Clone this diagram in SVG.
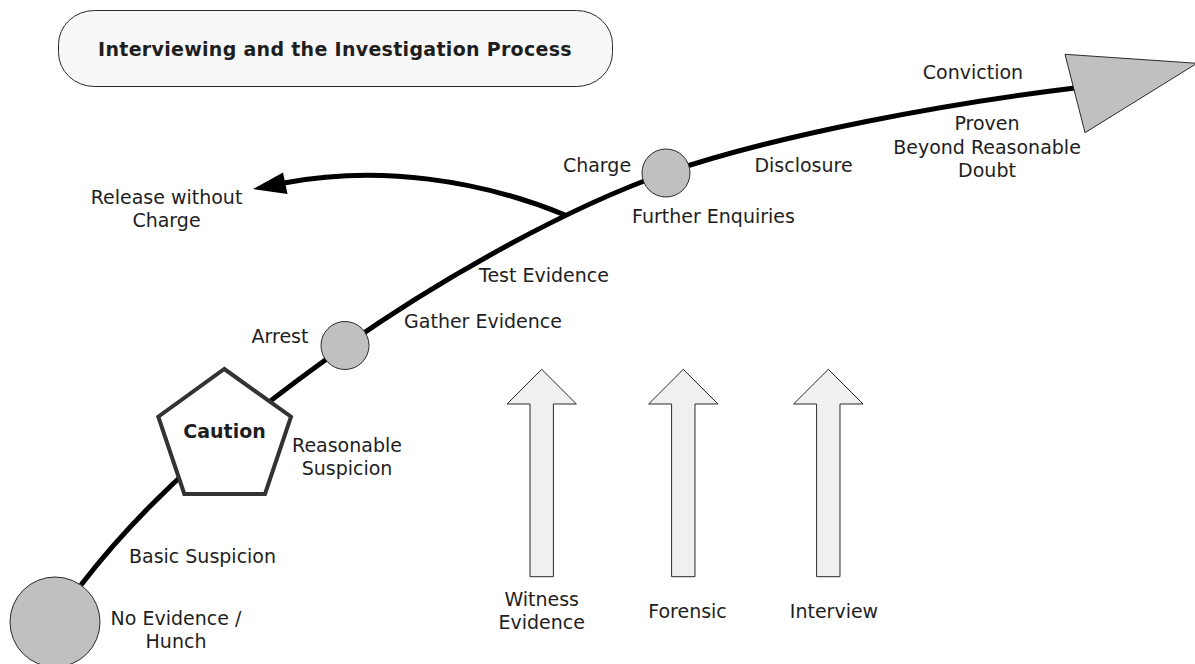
<svg xmlns="http://www.w3.org/2000/svg" width="1195" height="664" viewBox="0 0 1195 664">
  <style>
    .lbl { font-family: "DejaVu Sans", Verdana, sans-serif; font-size: 19px; fill: #1e1e1e; text-anchor: middle; }
    .bold { font-weight: bold; }
    .dot { fill: #c0c0c0; stroke: #2a2a2a; stroke-width: 1; }
    .path { fill: none; stroke: #000; stroke-width: 5; stroke-linecap: butt; }
    .source { fill: #f0f0f0; stroke: #2a2a2a; stroke-width: 1; }
  </style>
  <defs>
    <!-- upward block arrow, tip at origin -->
    <path id="blockArrow" d="M0,0 L34.7,34.7 L11.7,34.7 L11.7,207.4 L-11.7,207.4 L-11.7,34.7 L-34.7,34.7 Z"/>
  </defs>
  <rect width="1195" height="664" fill="#fff"/>

  <!-- title -->
  <g id="title">
    <rect x="58.5" y="10.5" width="554" height="76" rx="36" ry="34" fill="#f7f7f7" stroke="#2a2a2a" stroke-width="1"/>
    <text class="lbl bold" x="335" y="55.5" letter-spacing="0.3">Interviewing and the Investigation Process</text>
  </g>

  <!-- connectors -->
  <g id="connectors">
    <path class="path" d="M81,585 C150,495 240,420 345,346 C430,286 560,210 666,173 C780,134 950,103 1075,88"/>
    <path class="path" d="M565,215 C480,180 380,165 284,183"/>
    <polygon points="253,189 283,172.5 287.5,194" fill="#000"/>
  </g>

  <g id="no-evidence">
    <circle class="dot" cx="55" cy="622" r="45"/>
    <text class="lbl" x="176" y="625">No Evidence /</text>
    <text class="lbl" x="176" y="648">Hunch</text>
  </g>

  <g id="basic-suspicion">
    <text class="lbl" x="202.5" y="563">Basic Suspicion</text>
  </g>

  <g id="caution">
    <polygon points="224.3,369 291,416.7 265,494 184.3,494 158.3,416.7" fill="#fff" stroke="#333" stroke-width="4" stroke-linejoin="miter"/>
    <text class="lbl bold" x="224.5" y="438">Caution</text>
  </g>

  <g id="reasonable-suspicion">
    <text class="lbl" x="347" y="452">Reasonable</text>
    <text class="lbl" x="347" y="475">Suspicion</text>
  </g>

  <g id="arrest">
    <circle class="dot" cx="345" cy="345.5" r="24"/>
    <text class="lbl" x="280" y="343">Arrest</text>
  </g>

  <g id="gather-evidence">
    <text class="lbl" x="483" y="328">Gather Evidence</text>
  </g>

  <g id="test-evidence">
    <text class="lbl" x="544" y="282">Test Evidence</text>
  </g>

  <g id="release">
    <text class="lbl" x="166.5" y="204">Release without</text>
    <text class="lbl" x="166.5" y="227">Charge</text>
  </g>

  <g id="charge">
    <circle class="dot" cx="666" cy="173" r="24"/>
    <text class="lbl" x="597" y="172">Charge</text>
    <text class="lbl" x="713.5" y="223">Further Enquiries</text>
  </g>

  <g id="disclosure">
    <text class="lbl" x="803.5" y="172">Disclosure</text>
  </g>

  <g id="conviction">
    <polygon points="1065,54.3 1197,63.3 1085,132.7" fill="#c0c0c0" stroke="#2a2a2a" stroke-width="1"/>
    <text class="lbl" x="973" y="79">Conviction</text>
    <text class="lbl" x="987" y="130">Proven</text>
    <text class="lbl" x="987" y="154">Beyond Reasonable</text>
    <text class="lbl" x="987" y="177">Doubt</text>
  </g>

  <g id="witness-evidence">
    <use href="#blockArrow" class="source" transform="translate(541.7,369.3)"/>
    <text class="lbl" x="541.7" y="606">Witness</text>
    <text class="lbl" x="541.7" y="629">Evidence</text>
  </g>

  <g id="forensic">
    <use href="#blockArrow" class="source" transform="translate(683.3,369.3)"/>
    <text class="lbl" x="687.5" y="618">Forensic</text>
  </g>

  <g id="interview">
    <use href="#blockArrow" class="source" transform="translate(828.3,369.3)"/>
    <text class="lbl" x="834" y="618">Interview</text>
  </g>
</svg>
